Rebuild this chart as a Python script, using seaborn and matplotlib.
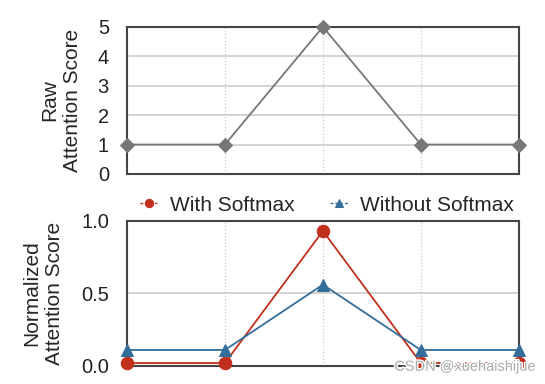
import matplotlib
matplotlib.use("Agg")
import matplotlib.pyplot as plt
import seaborn as sns
import pandas as pd
import matplotlib.patheffects as pe

positions = [0, 1, 2, 3, 4]
raw_scores = [1, 1, 5, 1, 1]
with_softmax = [0.02, 0.02, 0.93, 0.02, 0.02]
without_softmax = [0.11, 0.11, 0.56, 0.11, 0.11]
series_names = ["With Softmax", "Without Softmax"]
raw_ticks = [0, 1, 2, 3, 4, 5]
norm_ticks = [0.0, 0.5, 1.0]

sns.set_style("white")
plt.rcParams['font.family'] = ['Liberation Sans', 'DejaVu Sans']

fig = plt.figure(figsize=(5.45, 3.84), dpi=100)
ax1 = fig.add_axes([0.233, 0.547, 0.719, 0.383])
ax2 = fig.add_axes([0.233, 0.047, 0.719, 0.378])

grey = "#777777"
red = "#c0301c"
blue = "#336d99"
spine_c = "#444444"

df_raw = pd.DataFrame({"pos": positions, "score": raw_scores})
sns.lineplot(data=df_raw, x="pos", y="score", ax=ax1, color=grey, marker="D",
             markersize=7, markeredgecolor=grey, linewidth=1.3, clip_on=False, zorder=5)

df_norm = pd.DataFrame({
    "pos": positions * 2,
    "score": with_softmax + without_softmax,
    "series": [series_names[0]] * 5 + [series_names[1]] * 5,
})
sns.lineplot(data=df_norm, x="pos", y="score", hue="series", style="series",
             markers={series_names[0]: "o", series_names[1]: "^"},
             dashes=False, palette={series_names[0]: red, series_names[1]: blue},
             ax=ax2, markersize=9, markeredgecolor=None, linewidth=1.3, clip_on=False, zorder=5)
for l in ax2.lines:
    l.set_markeredgecolor(l.get_color())

for ax in (ax1, ax2):
    ax.set_xlim(0, 4)
    ax.set_xticks([1, 2, 3])
    ax.set_xticklabels([])
    ax.tick_params(axis='x', length=0)
    ax.tick_params(axis='y', length=0, labelsize=14.5, pad=13, colors="#222222")
    ax.set_xlabel("")
    ax.grid(axis='y', color="#cccccc", linewidth=1.2, linestyle='-')
    ax.grid(axis='x', color="#cccccc", linewidth=0.9, linestyle=':')
    ax.set_axisbelow(True)
    for s in ax.spines.values():
        s.set_color(spine_c)
        s.set_linewidth(1.5)

ax1.set_ylim(0, 5)
ax1.set_yticks(raw_ticks)
ax1.set_ylabel("Raw\nAttention Score", fontsize=15, labelpad=11, linespacing=1.3)

ax2.set_ylim(0, 1)
ax2.set_yticks(norm_ticks)
ax2.set_yticklabels(["0.0", "0.5", "1.0"])
ax2.set_ylabel("Normalized\nAttention Score", fontsize=15, labelpad=12, linespacing=1.3)

handles, labels = ax2.get_legend_handles_labels()
for h in handles:
    h.set_linestyle((0, (2, 1.5)))
    h.set_markersize(6)
    h.set_linewidth(1.0)
ax2.legend(handles, labels, loc="lower center", bbox_to_anchor=(0.51, 0.985), ncol=2,
           frameon=False, fontsize=15, handlelength=0.85, columnspacing=1.7,
           handletextpad=0.6, borderaxespad=0.0)

fig.text(0.985, 0.045, "CSDN @xuehaishijue", ha="right", va="center", fontsize=10.5,
         color="#aaaaaa", path_effects=[pe.withStroke(linewidth=2, foreground="white")])

fig.savefig("out.png", dpi=100)
